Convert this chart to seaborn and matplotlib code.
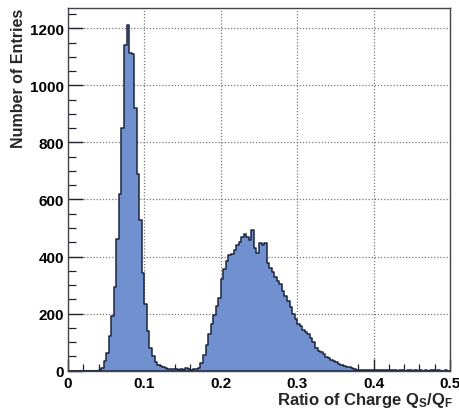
import numpy as np
import pandas as pd
import matplotlib
matplotlib.use("Agg")
import matplotlib.pyplot as plt
from matplotlib.ticker import MultipleLocator
import seaborn as sns

# Histogram of the charge ratio Q_S/Q_F, 150 bins between 0 and 0.5
bin_lo, bin_hi, n_bins = 0.0, 0.5, 150
counts = [
    0, 0, 0, 0, 0, 0, 0, 0, 0, 0, 0, 0,
    3, 10, 33, 63, 120, 190, 295, 462, 619, 849, 1140, 1210, 1112, 1110,
    919, 688, 527, 344, 233, 140, 80, 53, 29, 20, 16,
    12, 11, 7, 6, 6, 5, 4, 5, 4, 10, 5, 4, 5, 6, 11,
    28, 55, 90, 128, 162, 195, 225, 255, 320, 355, 385, 405,
    410, 424, 440, 450, 467, 479, 470, 458, 492, 431, 414, 447, 440, 449,
    379, 359, 346, 330, 315, 303, 280, 262, 245, 222, 198, 181, 163, 155,
    144, 134, 128, 113, 99, 78, 70, 64, 58, 47, 43, 39, 35, 29, 23, 21,
    17, 12, 12, 8, 6, 4, 4,
    3, 2, 3, 2, 3, 2, 1, 2, 3, 1, 2, 1, 2, 1, 0, 2, 1, 0, 1, 2, 0, 1, 0,
    1, 0, 1, 0, 3, 1, 0, 1, 0, 0, 1, 0,
]
x_ticks = [0, 0.1, 0.2, 0.3, 0.4, 0.5]
x_tick_labels = ["0", "0.1", "0.2", "0.3", "0.4", "0.5"]
y_ticks = [0, 200, 400, 600, 800, 1000, 1200]
x_title = r"Ratio of Charge Q$_{\mathregular{S}}$/Q$_{\mathregular{F}}$"
y_title = "Number of Entries"

edges = np.linspace(bin_lo, bin_hi, n_bins + 1)
df = pd.DataFrame({"ratio": (edges[:-1] + edges[1:]) / 2, "entries": counts})

sns.set_theme(style="white")
plt.rcParams["font.family"] = ["Liberation Sans", "DejaVu Sans"]
plt.rcParams["font.weight"] = "bold"
plt.rcParams["mathtext.default"] = "regular"

fig = plt.figure(figsize=(4.6, 4.1), dpi=100)
ax = fig.add_axes([68 / 460, 1 - 371.7 / 410, 382 / 460, (371.7 - 9) / 410])

sns.histplot(
    data=df, x="ratio", weights="entries", bins=n_bins,
    binrange=(bin_lo, bin_hi),
    element="step", fill=True, color="#7090cf", alpha=1.0,
    edgecolor="#1c2440", linewidth=1.1, ax=ax, zorder=2,
)

ax.set_xlim(0, 0.5)
ax.set_ylim(0, 1271)
ax.set_xticks(x_ticks)
ax.set_xticklabels(x_tick_labels)
ax.set_yticks(y_ticks)
ax.xaxis.set_minor_locator(MultipleLocator(0.02))
ax.yaxis.set_minor_locator(MultipleLocator(50))

# dotted grid drawn beneath the filled histogram
for v in x_ticks[1:-1]:
    ax.axvline(v, color="#777777", ls=(0, (1, 1.5)), lw=0.9, zorder=0.5)
for v in y_ticks[1:]:
    ax.axhline(v, color="#777777", ls=(0, (1, 1.5)), lw=0.9, zorder=0.5)

ax.tick_params(axis="both", which="both", direction="in", colors="#222233",
               top=False, right=False, bottom=True, left=True)
ax.tick_params(axis="x", which="major", length=9, width=1.0, pad=4,
               labelsize=11, labelcolor="black")
ax.tick_params(axis="x", which="minor", length=5, width=0.9)
ax.tick_params(axis="y", which="major", length=11, width=1.0, pad=3,
               labelsize=11, labelcolor="black")
ax.tick_params(axis="y", which="minor", length=5.5, width=0.9)
for lab in ax.get_xticklabels() + ax.get_yticklabels():
    lab.set_fontweight("bold")

for s in ax.spines.values():
    s.set_visible(True)
    s.set_color("#444444")
    s.set_linewidth(1.0)

ax.set_xlabel(x_title, fontsize=12, fontweight="bold", loc="right")
ax.xaxis.set_label_coords(1.008, -0.052)
ax.set_ylabel(y_title, fontsize=11.5, fontweight="bold", loc="top")
ax.yaxis.set_label_coords(-0.110, 1.0)

fig.savefig("out.png", dpi=100, facecolor="white")
